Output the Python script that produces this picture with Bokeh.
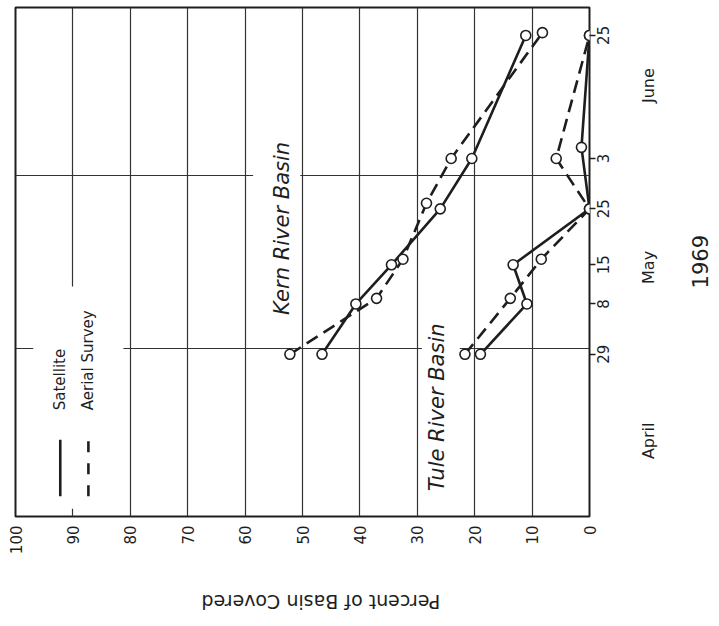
import math

from bokeh.embed import file_html
from bokeh.models import BoxAnnotation, FixedTicker, Grid, Label, LinearAxis, Range1d
from bokeh.plotting import figure
from bokeh.resources import INLINE

# ---------------------------------------------------------------- data
# Dates are plotted as day numbers counted from 31 March 1969.
MONTH_OFFSET = {"Apr": 0, "May": 30, "Jun": 61}


def to_day(date):
    month, d = date.split()
    return MONTH_OFFSET[month] + float(d)


date_ticks = ["Apr 29", "May 8", "May 15", "May 25", "Jun 3", "Jun 25"]
date_tick_labels = ["29", "8", "15", "25", "3", "25"]
month_names = ["April", "May", "June"]
month_label_dates = ["Apr 13.5", "May 14.5", "Jun 16"]
year_label = "1969"
year_label_date = "May 15.5"
pct_ticks = [0, 10, 20, 30, 40, 50, 60, 70, 80, 90, 100]
pct_title = "Percent  of  Basin  Covered"

kern_satellite_dates = ["Apr 29", "May 8", "May 15", "May 25", "Jun 3", "Jun 25"]
kern_satellite_pct = [46.6, 40.7, 34.5, 26.0, 20.5, 11.1]
kern_aerial_dates = ["Apr 29", "May 9", "May 16", "May 26", "Jun 3", "Jun 25.5"]
kern_aerial_pct = [52.2, 37.1, 32.5, 28.4, 24.1, 8.2]

tule_satellite_dates = ["Apr 29", "May 8", "May 15", "May 25", "Jun 5", "Jun 25"]
tule_satellite_pct = [19.0, 10.9, 13.3, 0.0, 1.4, 0.0]
tule_aerial_dates = ["Apr 29", "May 9", "May 16", "May 25", "Jun 3", "Jun 25"]
tule_aerial_pct = [21.7, 13.8, 8.4, 0.0, 5.8, 0.0]

INK = "#1e1e1e"
FONT = "DejaVu Sans"
DASH = "13 7"
UP = math.pi / 2  # text reading bottom-to-top

# frame geometry (pixels) and the resulting scale factors
FRAME_W, FRAME_H = 575, 514
X_START, X_END = 100, 0
Y_START, Y_END = 0, 91
PX_PER_DAY = FRAME_H / (Y_END - Y_START)
PX_PER_PCT = FRAME_W / (X_START - X_END)

# approximate DejaVu Sans advance widths (em) used to centre rotated labels
ADVANCE = {" ": 0.318, "A": 0.684, "B": 0.686, "C": 0.698, "J": 0.295, "M": 0.863,
           "P": 0.603, "a": 0.613, "c": 0.550, "d": 0.635, "e": 0.615, "f": 0.352,
           "i": 0.278, "l": 0.278, "n": 0.634, "o": 0.612, "p": 0.635, "r": 0.411,
           "s": 0.521, "t": 0.392, "u": 0.634, "v": 0.592, "y": 0.592}


def text_len(text, size_px):
    return sum(ADVANCE.get(ch, 0.636) for ch in text) * size_px


# ---------------------------------------------------------------- figure
p = figure(
    width=719,
    height=626,
    x_range=Range1d(X_START, X_END),
    y_range=Range1d(Y_START, Y_END),
    x_axis_location=None,
    y_axis_location=None,
    output_backend="svg",
    toolbar_location=None,
    min_border_left=15,
    min_border_right=129,
    min_border_top=7,
    min_border_bottom=105,
    background_fill_color="white",
    border_fill_color="white",
)
p.grid.visible = False
p.outline_line_color = INK
p.outline_line_width = 2

# grid: every 10 percent, and month boundaries (1 May, 1 June)
p.add_layout(Grid(dimension=0, ticker=FixedTicker(ticks=pct_ticks[1:-1]),
                  grid_line_color="#333333", grid_line_width=1.2))
p.add_layout(Grid(dimension=1, ticker=FixedTicker(ticks=[to_day("May 0"), to_day("Jun 0")]),
                  grid_line_color="#333333", grid_line_width=1.2))


def text_axis(ticks, labels, orientation, size, standoff, tick_out=0):
    ax = LinearAxis(ticker=FixedTicker(ticks=ticks),
                    major_label_overrides={t: s for t, s in zip(ticks, labels)})
    ax.axis_line_color = None
    ax.major_tick_in = 0
    ax.major_tick_out = tick_out
    ax.major_tick_line_color = INK if tick_out else None
    ax.major_tick_line_width = 1.5
    ax.major_label_standoff = standoff
    ax.major_label_orientation = orientation
    ax.major_label_text_font = FONT
    ax.major_label_text_font_size = f"{size}px"
    ax.major_label_text_color = INK
    return ax


def centred_day(day, text, size):
    # right-side rotated labels start at their tick; move the anchor so the
    # text is centred on the wanted day
    return day - text_len(text, size) / 2 / PX_PER_DAY


# percent scale along the bottom
p.add_layout(text_axis(pct_ticks, [str(v) for v in pct_ticks], UP, 15, 9), "below")

# axis title, upside down, centred under the frame (rotated text runs rightwards from its anchor)
TITLE_SIZE = 19
title_centre = 48.3
title_anchor = title_centre + text_len(pct_title, TITLE_SIZE) / 2 / PX_PER_PCT
p.add_layout(text_axis([title_anchor], [pct_title], math.pi, TITLE_SIZE, 44), "below")

# survey dates: tick marks on the true dates, labels centred on them
tick_days = [to_day(d) for d in date_ticks]
p.add_layout(text_axis(tick_days, [""] * len(tick_days), UP, 15, 0, tick_out=6), "right")
label_days = [centred_day(d, s, 15) for d, s in zip(tick_days, date_tick_labels)]
p.add_layout(text_axis(label_days, date_tick_labels, UP, 15, 8), "right")

# month names and year
month_days = [centred_day(to_day(d), s, 16) for d, s in zip(month_label_dates, month_names)]
p.add_layout(text_axis(month_days, month_names, UP, 16, 30), "right")
year_day = centred_day(to_day(year_label_date), year_label, 21)
p.add_layout(text_axis([year_day], [year_label], UP, 21, 30), "right")

# white patches that break the grid behind the legend and basin names
for left, right, bottom, top in [(96.9, 81.2, 1.4, 41.1),
                                 (58.6, 50.4, 60.3, 61.7),
                                 (29.2, 22.6, 29.3, 30.7)]:
    p.add_layout(BoxAnnotation(left=left, right=right, bottom=bottom, top=top,
                               fill_color="white", fill_alpha=1.0, line_color=None,
                               level="underlay"))

# ---------------------------------------------------------------- series
series = [
    (kern_satellite_dates, kern_satellite_pct, "solid"),
    (kern_aerial_dates, kern_aerial_pct, DASH),
    (tule_satellite_dates, tule_satellite_pct, "solid"),
    (tule_aerial_dates, tule_aerial_pct, DASH),
]
for dates, pct, dash in series:
    days = [to_day(d) for d in dates]
    p.line(pct, days, line_color=INK, line_width=2.6, line_dash=dash)
for dates, pct, dash in series:
    days = [to_day(d) for d in dates]
    p.scatter(pct, days, marker="circle", size=10, fill_color="white",
              line_color=INK, line_width=1.6)

# ---------------------------------------------------------------- legend
legend_rows = [("Satellite", 92.2, "solid"), ("Aerial  Survey", 87.3, "11 11")]
for text, xpos, dash in legend_rows:
    p.segment(x0=[xpos], y0=[3.6], x1=[xpos], y1=[13.7],
              line_color=INK, line_width=2.6, line_dash=dash)
    p.add_layout(Label(x=xpos, y=19.0, text=text, angle=UP,
                       text_align="left", text_baseline="middle",
                       text_font=FONT, text_font_size="15px", text_color=INK))

# basin names
for text, xpos, ypos in [("Kern  River  Basin", 53.5, 52.7),
                         ("Tule  River  Basin", 26.6, 20.7)]:
    p.add_layout(Label(x=xpos, y=ypos, text=text, angle=UP,
                       text_align="center", text_baseline="middle",
                       text_font=FONT, text_font_style="italic",
                       text_font_size="21px", text_color=INK))

open("out.html", "w").write(file_html(p, INLINE))
